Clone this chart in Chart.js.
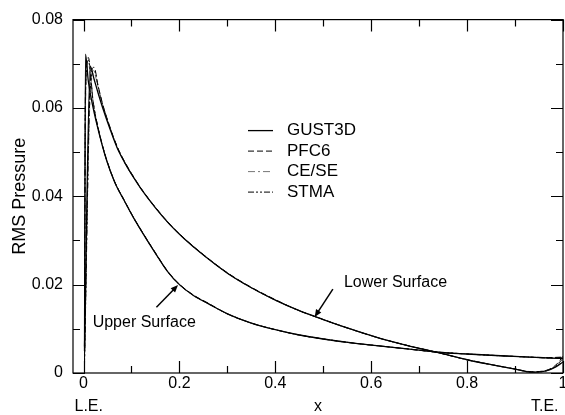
<!DOCTYPE html>
<html>
<head>
<meta charset="utf-8">
<script src="https://cdn.jsdelivr.net/npm/chart.js@4.4.1/dist/chart.umd.min.js"></script>
<style>
    html, body { margin: 0; padding: 0; background: #fff; }
</style>
</head>
<body>
<canvas id="rmsChart" width="565" height="415"></canvas>
<script>
// chordwise stations (x/c) for each surface
const upperX = [0.002, 0.004, 0.01, 0.02, 0.033, 0.047, 0.065, 0.085, 0.105, 0.125, 0.15, 0.175, 0.2, 0.23, 0.26, 0.3, 0.35, 0.4, 0.45, 0.5, 0.56, 0.62, 0.68, 0.74, 0.8, 0.87, 0.93, 0.97, 1.0];
const lowerX = [0.002, 0.014, 0.022, 0.03, 0.04, 0.055, 0.07, 0.085, 0.1, 0.12, 0.15, 0.18, 0.21, 0.25, 0.3, 0.35, 0.4, 0.45, 0.5, 0.55, 0.62, 0.68, 0.74, 0.8, 0.85, 0.9, 0.935, 0.965, 0.985, 1.0];

// RMS pressure
const gustUpper = [0.005, 0.0722, 0.066, 0.060, 0.054, 0.0485, 0.0432, 0.039, 0.035, 0.0314, 0.0271, 0.023, 0.02, 0.0175, 0.0157, 0.0134, 0.0113, 0.0098, 0.0086, 0.0077, 0.0068, 0.0061, 0.0054, 0.0047, 0.0043, 0.0039, 0.0036, 0.0034, 0.0033];
const gustLower = [0.006, 0.0694, 0.0665, 0.0635, 0.060, 0.0553, 0.051, 0.0478, 0.045, 0.0417, 0.0374, 0.0336, 0.0304, 0.0267, 0.0226, 0.0193, 0.0165, 0.0141, 0.0121, 0.0102, 0.0078, 0.0061, 0.0046, 0.003, 0.0019, 0.0009, 0.0002, 0.0005, 0.0014, 0.0025];
const pfcUpper = [0.002, 0.064, 0.0714, 0.0615, 0.0543, 0.0487, 0.0433, 0.0391, 0.0351, 0.0315, 0.0272, 0.0231, 0.0201, 0.0176, 0.0158, 0.0134, 0.0113, 0.0098, 0.0086, 0.0077, 0.0068, 0.0061, 0.0054, 0.0047, 0.0043, 0.0039, 0.0036, 0.0035, 0.0036];
const pfcLower = [0.003, 0.066, 0.0692, 0.0652, 0.0608, 0.0557, 0.0513, 0.048, 0.0452, 0.0418, 0.0375, 0.0337, 0.0305, 0.0268, 0.0227, 0.0194, 0.0166, 0.0141, 0.0121, 0.0102, 0.0078, 0.0061, 0.0046, 0.003, 0.0019, 0.0009, 0.0003, 0.0006, 0.0018, 0.0038];
const ceseUpper = [0.004, 0.060, 0.0700, 0.0612, 0.0542, 0.0486, 0.0432, 0.039, 0.035, 0.0314, 0.0271, 0.023, 0.02, 0.0175, 0.0157, 0.0134, 0.0113, 0.0098, 0.0086, 0.0077, 0.0068, 0.0061, 0.0054, 0.0047, 0.0043, 0.0039, 0.0036, 0.0034, 0.0034];
const ceseLower = [0.004, 0.063, 0.0678, 0.0648, 0.0606, 0.0555, 0.0511, 0.0478, 0.045, 0.0417, 0.0374, 0.0336, 0.0304, 0.0267, 0.0226, 0.0193, 0.0165, 0.0141, 0.0121, 0.0102, 0.0078, 0.0061, 0.0046, 0.003, 0.0019, 0.0009, 0.0002, 0.0005, 0.0015, 0.003];
const stmaUpper = [0.001, 0.062, 0.0708, 0.0613, 0.0542, 0.0486, 0.0432, 0.039, 0.035, 0.0314, 0.0271, 0.023, 0.02, 0.0175, 0.0157, 0.0134, 0.0113, 0.0098, 0.0086, 0.0077, 0.0068, 0.0061, 0.0054, 0.0047, 0.0043, 0.0039, 0.0036, 0.0034, 0.0035];
const stmaLower = [0.002, 0.064, 0.0685, 0.065, 0.0607, 0.0556, 0.0512, 0.0478, 0.045, 0.0417, 0.0374, 0.0336, 0.0304, 0.0267, 0.0226, 0.0193, 0.0165, 0.0141, 0.0121, 0.0102, 0.0078, 0.0061, 0.0046, 0.003, 0.0019, 0.0009, 0.0002, 0.0005, 0.0016, 0.0033];

const codeNames = ['GUST3D', 'PFC6', 'CE/SE', 'STMA'];
const upperSeries = [gustUpper, pfcUpper, ceseUpper, stmaUpper];
const lowerSeries = [gustLower, pfcLower, ceseLower, stmaLower];

const xTicks = [0, 0.2, 0.4, 0.6, 0.8, 1];
const xMinor = [0.1, 0.3, 0.5, 0.7, 0.9];
const yTicks = [0, 0.02, 0.04, 0.06, 0.08];
const yMinor = [0.01, 0.03, 0.05, 0.07];

const lineStyles = [
    { color: '#000', dash: [], width: 1.3 },
    { color: '#000', dash: [6, 3], width: 1 },
    { color: '#777', dash: [7, 3, 2, 3], width: 1 },
    { color: '#000', dash: [6, 2, 2, 2, 2, 2], width: 1 }
];

const notes = [
    { text: 'Upper Surface', at: [0.019, 0.0115], from: [0.152, 0.0149], to: [0.197, 0.0199] },
    { text: 'Lower Surface', at: [0.543, 0.0205], from: [0.520, 0.019], to: [0.482, 0.0127] }
];

const FONT = "'Liberation Sans', Arial, sans-serif";

function toPoints(xs, ys) {
    return xs.map((x, i) => ({ x: x, y: ys[i] }));
}

const datasets = [];
codeNames.forEach((name, i) => {
    const s = lineStyles[i];
    [upperSeries[i], lowerSeries[i]].forEach((ys, k) => {
        datasets.push({
            label: name,
            data: toPoints(k === 0 ? upperX : lowerX, ys),
            borderColor: s.color,
            borderWidth: s.width,
            borderDash: s.dash,
            pointRadius: 0,
            fill: false,
            cubicInterpolationMode: 'monotone',
            order: i === 0 ? 0 : 1
        });
    });
});

const frameTicks = {
    id: 'frameTicks',
    afterDraw(chart) {
        const { ctx, chartArea: a, scales: { x, y } } = chart;
        ctx.save();
        ctx.strokeStyle = '#000';
        ctx.lineWidth = 1.2;
        ctx.setLineDash([]);
        ctx.strokeRect(a.left, a.top, a.right - a.left, a.bottom - a.top);
        ctx.beginPath();
        const xt = (vals, len) => vals.forEach(v => {
            const px = Math.round(x.getPixelForValue(v)) + 0.5;
            ctx.moveTo(px, a.bottom); ctx.lineTo(px, a.bottom - len);
            ctx.moveTo(px, a.top); ctx.lineTo(px, a.top + len);
        });
        const yt = (vals, len) => vals.forEach(v => {
            const py = Math.round(y.getPixelForValue(v)) + 0.5;
            ctx.moveTo(a.left, py); ctx.lineTo(a.left + len, py);
            ctx.moveTo(a.right, py); ctx.lineTo(a.right - len, py);
        });
        xt(xTicks, 12); xt(xMinor, 7);
        yt(yTicks, 12); yt(yMinor, 7);
        ctx.stroke();

        // in-plot legend
        ctx.font = '17px ' + FONT;
        ctx.textBaseline = 'middle';
        ctx.fillStyle = '#000';
        codeNames.forEach((name, i) => {
            const s = lineStyles[i];
            const ly = a.top + 111 + i * 20.5;
            ctx.strokeStyle = s.color;
            ctx.lineWidth = s.width;
            ctx.setLineDash(s.dash);
            ctx.beginPath();
            ctx.moveTo(a.left + 175, ly);
            ctx.lineTo(a.left + 200, ly);
            ctx.stroke();
            ctx.fillText(name, a.left + 214, ly);
        });

        // surface labels with arrows
        ctx.setLineDash([]);
        ctx.strokeStyle = '#000';
        ctx.lineWidth = 1.5;
        ctx.font = '16px ' + FONT;
        notes.forEach(n => {
            ctx.fillText(n.text, x.getPixelForValue(n.at[0]), y.getPixelForValue(n.at[1]));
            const x0 = x.getPixelForValue(n.from[0]), y0 = y.getPixelForValue(n.from[1]);
            const x1 = x.getPixelForValue(n.to[0]), y1 = y.getPixelForValue(n.to[1]);
            const ang = Math.atan2(y1 - y0, x1 - x0);
            ctx.beginPath();
            ctx.moveTo(x0, y0);
            ctx.lineTo(x1 - 4 * Math.cos(ang), y1 - 4 * Math.sin(ang));
            ctx.stroke();
            ctx.beginPath();
            ctx.moveTo(x1, y1);
            ctx.lineTo(x1 - 8 * Math.cos(ang - 0.4), y1 - 8 * Math.sin(ang - 0.4));
            ctx.lineTo(x1 - 8 * Math.cos(ang + 0.4), y1 - 8 * Math.sin(ang + 0.4));
            ctx.closePath();
            ctx.fill();
        });

        // axis captions under the x axis
        ctx.textBaseline = 'alphabetic';
        ctx.textAlign = 'left';
        ctx.fillText('L.E.', a.left + 1.5, 411);
        ctx.textAlign = 'center';
        ctx.fillText('x', (a.left + a.right) / 2, 411);
        ctx.textAlign = 'right';
        ctx.fillText('T.E.', a.right - 4.5, 411);
        ctx.restore();
    }
};

new Chart(document.getElementById('rmsChart'), {
    type: 'line',
    data: { datasets: datasets },
    options: {
        responsive: false,
        devicePixelRatio: 1,
        animation: false,
        layout: { padding: { top: 16, right: 2, left: 0, bottom: 0 } },
        plugins: {
            legend: { display: false },
            tooltip: { enabled: false }
        },
        scales: {
            x: {
                type: 'linear',
                min: -0.022,
                max: 1,
                grid: { display: false, drawTicks: false },
                border: { display: false },
                afterBuildTicks: s => { s.ticks = xTicks.map(v => ({ value: v })); },
                afterFit: s => { s.height = 42; s.paddingLeft = 0; s.paddingRight = 0; },
                ticks: {
                    color: '#000',
                    padding: 1,
                    maxRotation: 0,
                    font: { family: FONT, size: 16 },
                    callback: v => (v === 0 ? '0' : v === 1 ? '1' : v.toFixed(1))
                }
            },
            y: {
                min: 0,
                max: 0.08,
                grid: { display: false, drawTicks: false },
                border: { display: false },
                afterBuildTicks: s => { s.ticks = yTicks.map(v => ({ value: v })); },
                afterFit: s => { s.width = 73; },
                title: {
                    display: true,
                    text: 'RMS Pressure',
                    color: '#000',
                    font: { family: FONT, size: 18 },
                    padding: { top: 9, bottom: 0 }
                },
                ticks: {
                    color: '#000',
                    padding: 10,
                    font: { family: FONT, size: 16 },
                    callback: v => (v === 0 ? '0' : v.toFixed(2))
                }
            }
        }
    },
    plugins: [frameTicks]
});
</script>
</body>
</html>
